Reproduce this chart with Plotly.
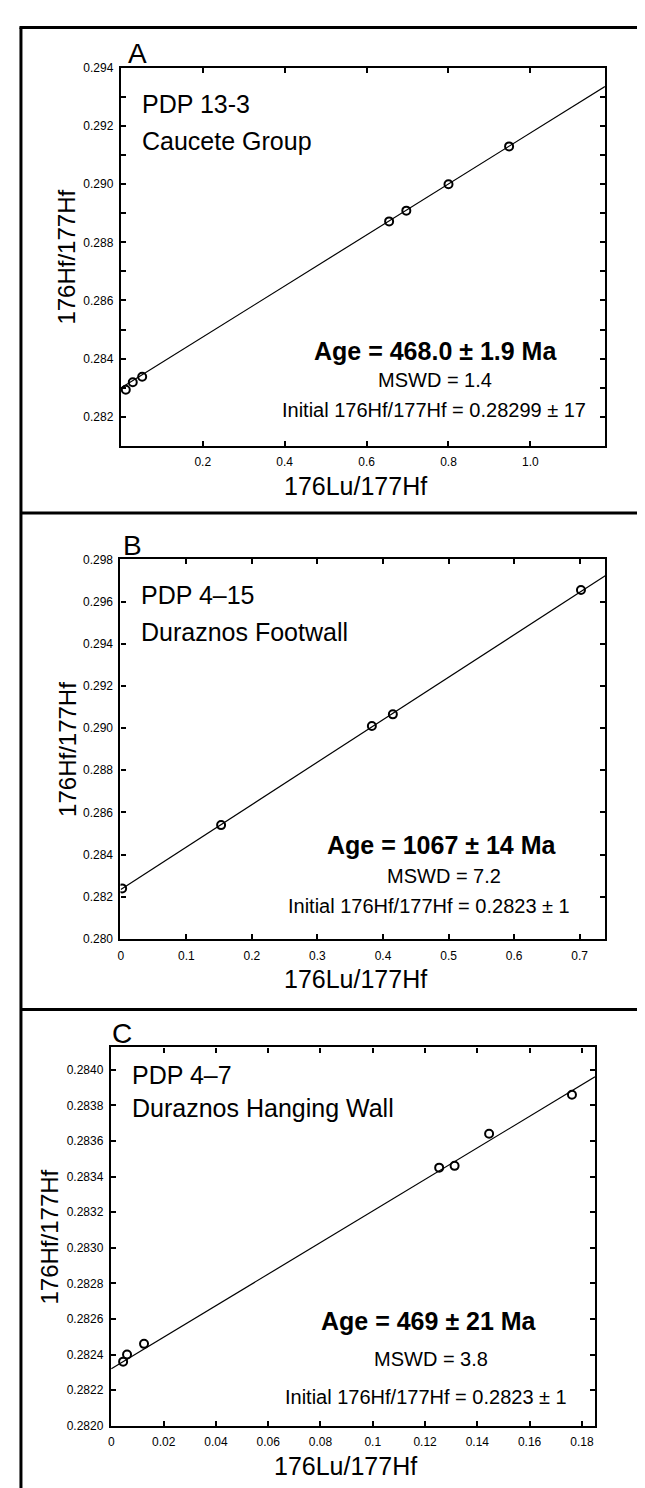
"""Lu-Hf isochron diagrams for three samples (panels A, B, C) using Plotly."""

import plotly.graph_objects as go

# ---- data ----
# Panel A: PDP 13-3, Caucete Group
a_lu = [0.012, 0.029, 0.052, 0.655, 0.697, 0.800, 0.948]
a_hf = [0.28293, 0.28319, 0.28338, 0.28872, 0.28909, 0.29000, 0.29130]
a_line_lu = [0.0, 1.182]
a_line_hf = [0.28299, 0.29336]
a_xticks = [0.2, 0.4, 0.6, 0.8, 1.0]
a_xlabels = ["0.2", "0.4", "0.6", "0.8", "1.0"]
a_yticks = [0.282, 0.283, 0.284, 0.285, 0.286, 0.287, 0.288, 0.289, 0.290, 0.291, 0.292, 0.293, 0.294]
a_ylabels = ["0.282", "", "0.284", "", "0.286", "", "0.288", "", "0.290", "", "0.292", "", "0.294"]

# Panel B: PDP 4-15, Duraznos Footwall
b_lu = [0.002, 0.153, 0.383, 0.415, 0.702]
b_hf = [0.28240, 0.28540, 0.29010, 0.29065, 0.29655]
b_line_lu = [0.0, 0.739]
b_line_hf = [0.28235, 0.29722]
b_xticks = [0.0, 0.1, 0.2, 0.3, 0.4, 0.5, 0.6, 0.7]
b_xlabels = ["0", "0.1", "0.2", "0.3", "0.4", "0.5", "0.6", "0.7"]
b_yticks = [0.280, 0.282, 0.284, 0.286, 0.288, 0.290, 0.292, 0.294, 0.296, 0.298]
b_ylabels = ["0.280", "0.282", "0.284", "0.286", "0.288", "0.290", "0.292", "0.294", "0.296", "0.298"]

# Panel C: PDP 4-7, Duraznos Hanging Wall
c_lu = [0.0045, 0.0060, 0.0125, 0.1254, 0.1313, 0.1445, 0.1762]
c_hf = [0.28236, 0.28240, 0.28246, 0.28345, 0.28346, 0.28364, 0.28386]
c_line_lu = [0.0, 0.185]
c_line_hf = [0.28232, 0.28396]
c_xticks = [0.0, 0.02, 0.04, 0.06, 0.08, 0.10, 0.12, 0.14, 0.16, 0.18]
c_xlabels = ["0", "0.02", "0.04", "0.06", "0.08", "0.1", "0.12", "0.14", "0.16", "0.18"]
c_yticks = [0.2820, 0.2822, 0.2824, 0.2826, 0.2828, 0.2830, 0.2832, 0.2834, 0.2836, 0.2838, 0.2840]
c_ylabels = ["0.2820", "0.2822", "0.2824", "0.2826", "0.2828", "0.2830",
             "0.2832", "0.2834", "0.2836", "0.2838", "0.2840"]

panel_letters = ["A", "B", "C"]
sample_names = ["PDP 13-3", "PDP 4–15", "PDP 4–7"]
units = ["Caucete Group", "Duraznos Footwall", "Duraznos Hanging Wall"]
ages = ["Age = 468.0 ± 1.9 Ma", "Age = 1067 ± 14 Ma", "Age = 469 ± 21 Ma"]
mswds = ["MSWD = 1.4", "MSWD = 7.2", "MSWD = 3.8"]
initials = ["Initial 176Hf/177Hf = 0.28299 ± 17",
            "Initial 176Hf/177Hf = 0.2823 ± 1",
            "Initial 176Hf/177Hf = 0.2823 ± 1"]

# ---- page geometry (pixels) ----
W, H = 645, 1488
FONT = "Liberation Sans"


def px(x):
    return x / W


def py(y):
    return 1 - y / H


# plot boxes: left, right, top, bottom (px)
boxes = [
    (110.4, 596.7, 53.3, 435.0),
    (110.0, 597.0, 549.3, 933.0),
    (100.3, 586.7, 1042.3, 1424.3),
]
x_ranges = [[0.0, 1.182], [-0.0005, 0.739], [-0.0002, 0.185]]
y_ranges = [[0.28100, 0.294002], [0.27999, 0.29801], [0.281999, 0.284125]]

fig = go.Figure()

series = [
    (a_lu, a_hf, a_line_lu, a_line_hf),
    (b_lu, b_hf, b_line_lu, b_line_hf),
    (c_lu, c_hf, c_line_lu, c_line_hf),
]
for i, (xs, ys, lx, ly) in enumerate(series):
    ax = "" if i == 0 else str(i + 1)
    # isochron regression line
    fig.add_trace(
        go.Scatter(
            x=lx, y=ly, mode="lines", xaxis="x" + ax, yaxis="y" + ax,
            line=dict(color="black", width=1.2), showlegend=False,
        )
    )
    # analyses
    fig.add_trace(
        go.Scatter(
            x=xs, y=ys, mode="markers", xaxis="x" + ax, yaxis="y" + ax,
            marker=dict(symbol="circle-open", size=8, color="black", line=dict(width=2)),
            showlegend=False,
        )
    )

tick_sets = [
    (a_xticks, a_xlabels, a_yticks, a_ylabels),
    (b_xticks, b_xlabels, b_yticks, b_ylabels),
    (c_xticks, c_xlabels, c_yticks, c_ylabels),
]

axis_common = dict(
    showline=True, linecolor="black", linewidth=2.2, mirror="allticks",
    ticks="inside", ticklen=5, tickwidth=1.5, tickcolor="black",
    showgrid=False, zeroline=False,
    tickfont=dict(family=FONT, size=12, color="black"),
)

layout_axes = {}
for i, (l, r, t, b) in enumerate(boxes):
    ax = "" if i == 0 else str(i + 1)
    xt, xl, yt, yl = tick_sets[i]
    layout_axes["xaxis" + ax] = dict(
        axis_common, domain=[px(l), px(r)], range=x_ranges[i],
        tickmode="array", tickvals=xt, ticktext=xl,
        anchor="y" + ax, ticklabelstandoff=4,
    )
    layout_axes["yaxis" + ax] = dict(
        axis_common, domain=[py(b), py(t)], range=y_ranges[i],
        tickmode="array", tickvals=yt, ticktext=yl,
        anchor="x" + ax, ticklabelstandoff=3,
    )

annotations = []


def note(text, x, y, size, xanchor="center", angle=0):
    annotations.append(dict(
        text=text, x=px(x), y=py(y), xref="paper", yref="paper",
        xanchor=xanchor, yanchor="middle", showarrow=False, textangle=angle,
        font=dict(family=FONT, size=size, color="black"),
    ))


# in-plot text positions (px)
age_y = [339, 838, 1318]
mswd_y = [368, 869, 1357]
init_y = [399, 899, 1395]
age_x = [426, 433, 420]
mswd_x = [426, 435, 422]
init_x = [425, 420, 417]
name_y = [90, 586, 1070]
unit_y = [127, 623, 1103]
ytitle_x = [56, 56, 39]
letter_dx = [5, 1, -1]

for i, (l, r, t, b) in enumerate(boxes):
    note(panel_letters[i], l + letter_dx[i], t - 14, 28, xanchor="left")
    note(sample_names[i], l + 19, name_y[i], 25, xanchor="left")
    note(units[i], l + 19, unit_y[i], 25, xanchor="left")
    note("<b>" + ages[i] + "</b>", age_x[i], age_y[i], 25)
    note(mswds[i], mswd_x[i], mswd_y[i], 20)
    note(initials[i], init_x[i], init_y[i], 20)
    note("176Lu/177Hf", (l + r) / 2 - 7, b + 40, 25)
    note("176Hf/177Hf", ytitle_x[i], (t + b) / 2, 24, angle=-90)

# outer frame and panel separators
frame = dict(color="black", width=3)
shapes = [
    dict(type="line", xref="paper", yref="paper", x0=px(10), x1=px(10), y0=py(12.7), y1=py(H + 5), line=frame),
    dict(type="line", xref="paper", yref="paper", x0=px(8.5), x1=px(W + 5), y0=py(12.7), y1=py(12.7), line=frame),
    dict(type="line", xref="paper", yref="paper", x0=px(10), x1=px(W + 5), y0=py(502.7), y1=py(502.7), line=frame),
    dict(type="line", xref="paper", yref="paper", x0=px(10), x1=px(W + 5), y0=py(1004), y1=py(1004), line=frame),
]

fig.update_layout(
    width=W, height=H,
    margin=dict(l=0, r=0, t=0, b=0),
    paper_bgcolor="white", plot_bgcolor="white",
    showlegend=False,
    annotations=annotations,
    shapes=shapes,
    **layout_axes,
)

fig.write_html("out.html")
